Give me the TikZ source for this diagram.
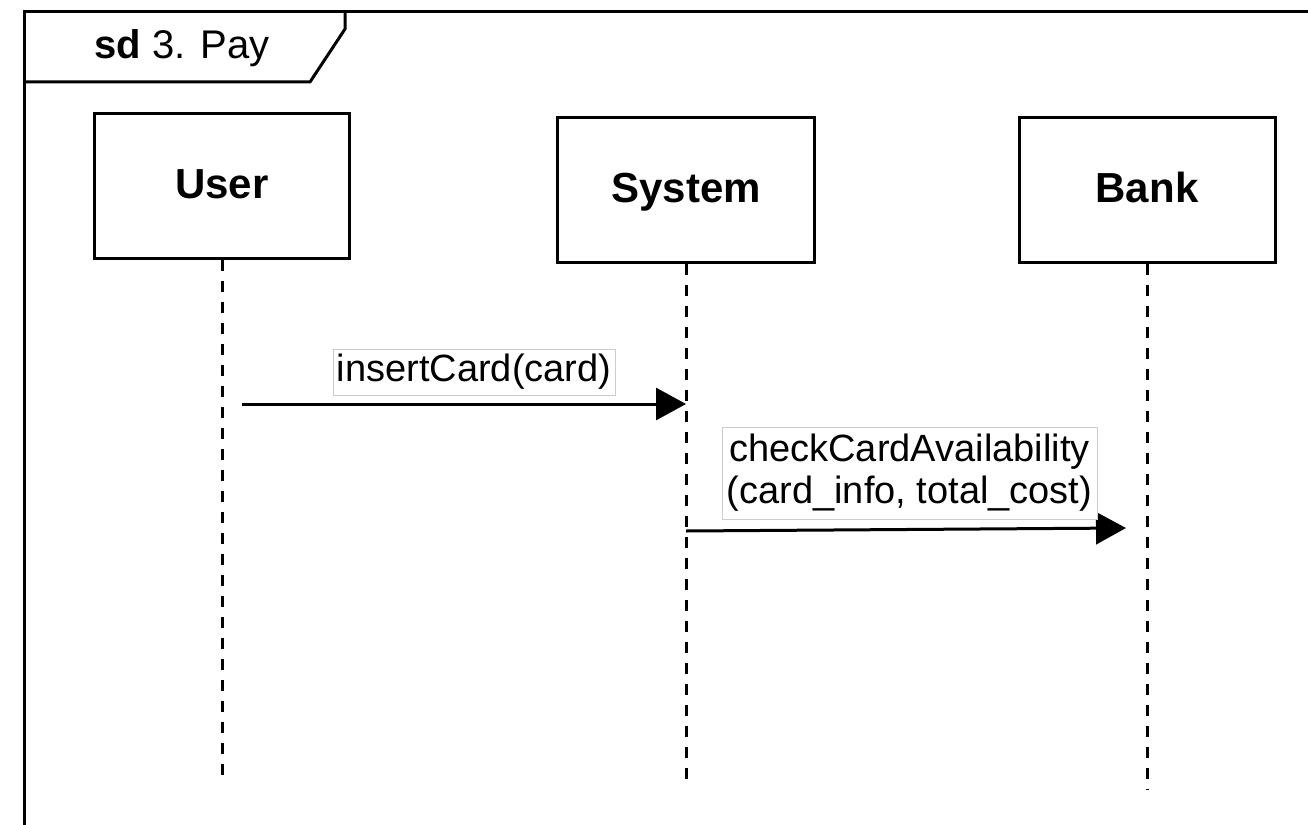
\documentclass[tikz,border=0pt]{standalone}
\usepackage{fontspec}
\setmainfont{Liberation Sans}
\usetikzlibrary{arrows.meta}
\begin{document}
\begin{tikzpicture}[x=1pt,y=-1pt,
 part/.style={draw, line width=3pt, fill=white, minimum width=255pt, minimum height=144pt, inner sep=0pt, text height=32pt, text depth=7pt, font=\fontsize{42}{48}\selectfont\bfseries},
 life/.style={line width=3pt, dash pattern=on 11pt off 10pt},
 msg/.style={line width=3pt, -{Triangle[length=30pt,width=32pt]}},
 lbl/.style={draw=black!20, line width=1pt, fill=white, inner sep=0pt, font=\fontsize{38}{42}\selectfont, align=center},
 framelbl/.style={inner sep=0pt, font=\fontsize{40}{46}\selectfont}
]
\useasboundingbox (0,0) rectangle (1308,824);
\fill[white] (0,0) rectangle (1308,824);
% frame
\draw[line width=3pt] (24,840) -- (24,12) -- (1320,12);
\draw[line width=3pt] (345,12) -- (345,29) -- (310,82) -- (24,82);
\node[framelbl] (title) at (182,48) {\textbf{sd} 3. Pay};
% participants
\node[part] (user) at (222,186) {User};
\node[part, minimum width=257pt] (system) at (686,190) {System};
\node[part, minimum width=256pt] (bank) at (1147,190) {Bank};
% lifeline ends
\coordinate (uE) at (222,782);
\coordinate (sE) at (686,782);
\coordinate (bE) at (1147,790);
\draw[life] (user.south) -- (uE);
\draw[life] (system.south) -- (sE);
\draw[life] (bank.south) -- (bE);
% messages
\coordinate (m1s) at (242,404);
\coordinate (m2s) at (686,531);
\coordinate (m2e) at (1126,528);
\draw[msg] (m1s) -- (m1s -| sE);
\draw[msg] (m2s) -- (m2e);
\node[lbl, minimum width=282pt, minimum height=46pt] (l1) at (474,372) {insertCard(card)};
\node[lbl, minimum width=375pt, minimum height=92pt] (l2) at (909.5,473) {checkCardAvailability\\(card\_info, total\_cost)};
\end{tikzpicture}
\end{document}
